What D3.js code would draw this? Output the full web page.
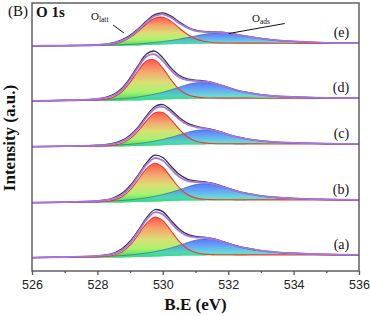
<!DOCTYPE html>
<html>
<head>
<meta charset="utf-8">
<script src="https://cdn.jsdelivr.net/npm/d3@7"></script>
<style>
  html, body { margin: 0; padding: 0; background: #fff; }
  svg { display: block; }
  .serif { font-family: "Liberation Serif", "DejaVu Serif", serif; }
  .sans { font-family: "Liberation Sans", "DejaVu Sans", sans-serif; }
</style>
</head>
<body>
<div id="chart"></div>
<script>
// binding energy grid (eV)
const energy = [526, 527, 527.5, 528, 528.25, 528.5, 528.75, 529, 529.25, 529.5, 529.75, 530, 530.25,
  530.5, 530.75, 531, 531.25, 531.5, 531.75, 532, 532.25, 532.5, 533, 533.5, 534, 535, 536];

// shirley-like background, shared by all spectra
const background = [0, 0, 0, 0.05, 0.1, 0.15, 0.25, 0.4, 0.6, 0.9, 1.2, 1.5, 1.75, 1.95, 2.1, 2.2, 2.3,
  2.4, 2.45, 2.5, 2.5, 2.55, 2.6, 2.6, 2.6, 2.6, 2.6];

const sampleLabels = ['(a)', '(b)', '(c)', '(d)', '(e)'];
const stackOffsets = [13.3, 68.3, 124.3, 170, 225];

// O_latt component
const lattA = [0, 0.3, 0.4, 0.7, 1.1, 2.3, 5.5, 12.1, 22.4, 33.5, 39.3, 35.6, 25.2, 14.3, 6.8, 2.9, 1.3, 0.7, 0.5, 0.4, 0.35, 0.3, 0.25, 0.2, 0.15, 0, 0];
const lattB = [0, 0.2, 0.35, 0.65, 1.1, 2.4, 5.7, 12.4, 22.6, 33.2, 38.2, 33.9, 23.5, 13.1, 6.1, 2.6, 1.2, 0.65, 0.5, 0.4, 0.35, 0.3, 0.25, 0.2, 0.15, 0, 0];
const lattC = [0, 0.2, 0.3, 0.5, 0.7, 1.4, 3.3, 7.7, 15.3, 25.0, 32.4, 32.6, 25.4, 15.7, 7.9, 3.5, 1.5, 0.74, 0.5, 0.4, 0.35, 0.3, 0.2, 0.15, 0.1, 0, 0];
const lattD = [0, 0.3, 0.45, 0.85, 1.7, 3.9, 9.0, 18.2, 29.9, 39.2, 39.8, 31.3, 19.6, 9.9, 4.3, 1.9, 0.9, 0.6, 0.45, 0.4, 0.35, 0.3, 0.2, 0.15, 0.1, 0, 0];
const lattE = [0, 0.2, 0.3, 0.55, 0.95, 1.9, 4.1, 8.0, 14.1, 21.1, 26.5, 27.2, 22.9, 16.0, 9.7, 5.05, 2.4, 1.15, 0.63, 0.45, 0.35, 0.3, 0.25, 0.2, 0.15, 0, 0];

// O_ads component
const adsA = [0.15, 0.4, 0.6, 1.0, 1.2, 1.5, 1.9, 2.35, 3.0, 3.75, 4.85, 6.2, 8.0, 10.3, 13.0, 15.3, 16.35, 15.8, 13.9, 11.3, 8.85, 6.9, 4.1, 2.6, 1.7, 0.7, 0.3];
const adsB = [0.15, 0.4, 0.65, 1.0, 1.25, 1.6, 2.0, 2.5, 3.2, 4.0, 5.2, 6.7, 8.6, 11.0, 13.7, 15.9, 16.8, 16.0, 14.0, 11.3, 8.7, 6.7, 3.9, 2.4, 1.6, 0.65, 0.3];
const adsC = [0.1, 0.35, 0.5, 0.85, 1.0, 1.3, 1.65, 2.05, 2.6, 3.3, 4.4, 5.8, 7.6, 9.8, 12.2, 14.0, 14.6, 13.8, 11.9, 9.2, 7.0, 5.3, 3.0, 1.8, 1.15, 0.45, 0.2];
const adsD = [0.15, 0.45, 0.7, 1.1, 1.35, 1.7, 2.15, 2.7, 3.45, 4.4, 5.7, 7.3, 9.4, 11.9, 14.4, 16.0, 16.4, 15.3, 13.0, 10.4, 7.9, 6.0, 3.4, 2.0, 1.3, 0.5, 0.2];
const adsE = [0.1, 0.25, 0.35, 0.55, 0.65, 0.8, 1.0, 1.2, 1.5, 1.85, 2.3, 2.95, 3.8, 4.9, 6.3, 7.9, 9.4, 10.3, 10.4, 9.8, 8.6, 7.2, 4.6, 2.9, 1.8, 0.6, 0.25];

// measured spectra
const rawA = [0.15, 0.7, 1.0, 1.85, 2.7, 4.65, 8.95, 16.45, 27.4, 39.75, 47.95, 46.1, 37.35, 28.75, 23.5, 21.3, 20.55, 19.3, 17.15, 14.5, 12.0, 9.95, 7.05, 5.4, 4.45, 3.3, 2.9];
const rawB = [0.15, 0.6, 1.0, 1.8, 2.75, 4.95, 9.35, 17.0, 27.9, 39.9, 47.5, 45.2, 36.45, 28.35, 23.6, 21.7, 21.0, 19.55, 17.35, 14.5, 11.85, 9.75, 6.85, 5.2, 4.35, 3.25, 2.9];
const rawC = [0.1, 0.55, 0.8, 1.5, 2.0, 3.45, 6.3, 11.55, 19.8, 30.7, 40.0, 42.1, 36.75, 29.25, 23.6, 20.5, 18.9, 17.34, 15.15, 12.4, 10.05, 8.35, 5.9, 4.55, 3.85, 3.05, 2.8];
const rawD = [0.15, 0.75, 1.15, 2.1, 3.55, 6.65, 12.9, 23.1, 35.55, 46.9, 49.9, 43.1, 33.15, 25.75, 22.2, 20.9, 20.1, 18.7, 16.2, 13.6, 10.95, 9.05, 6.3, 4.75, 4.0, 3.1, 2.8];
const rawE = [0.1, 0.45, 0.65, 1.25, 1.9, 3.35, 6.25, 10.7, 17.2, 24.95, 31.3, 33.15, 29.85, 24.05, 19.0, 15.75, 14.5, 14.15, 13.78, 12.95, 11.65, 10.15, 7.55, 5.7, 4.55, 3.2, 2.85];

const majorTicks = [526, 528, 530, 532, 534, 536];
const minorTicks = [527, 529, 531, 533, 535];

const lattSeries = [lattA, lattB, lattC, lattD, lattE];
const adsSeries = [adsA, adsB, adsC, adsD, adsE];
const rawSeries = [rawA, rawB, rawC, rawD, rawE];

const width = 370, height = 316;
const x = d3.scaleLinear().domain([526, 536]).range([32, 359]);
const y = d3.scaleLinear().domain([0, 268]).range([271, 3]);

const svg = d3.select('#chart').append('svg')
  .attr('width', width)
  .attr('height', height);

const defs = svg.append('defs');

defs.append('clipPath').attr('id', 'plotClip')
  .append('rect')
  .attr('x', x(526)).attr('y', y(268))
  .attr('width', x(536) - x(526)).attr('height', y(0) - y(268));

function gradient(id, stops) {
  const g = defs.append('linearGradient').attr('id', id)
    .attr('x1', 0).attr('y1', 0).attr('x2', 0).attr('y2', 1);
  stops.forEach(s => g.append('stop').attr('offset', s[0]).attr('stop-color', s[1]));
}
gradient('lattFill', [[0, '#ff4b3e'], [0.3, '#f4a062'], [0.55, '#d6dc68'], [0.78, '#a2f262'], [1, '#34d257']]);
gradient('adsFill', [[0, '#2f55ff'], [0.4, '#3f95f0'], [0.72, '#3fd2d0'], [1, '#2fe070']]);

const curve = d3.curveCatmullRom.alpha(0.5);

const plot = svg.append('g').attr('clip-path', 'url(#plotClip)');

sampleLabels.forEach((label, i) => {
  const off = stackOffsets[i];
  const latt = lattSeries[i], ads = adsSeries[i], raw = rawSeries[i];
  const rows = energy.map((e, k) => ({
    e: e,
    bg: off + background[k],
    latt: off + background[k] + latt[k],
    ads: off + background[k] + ads[k],
    fit: off + background[k] + latt[k] + ads[k],
    raw: off + raw[k]
  }));

  const g = plot.append('g').attr('class', 'spectrum');

  const area = key => d3.area().curve(curve)
    .x(d => x(d.e)).y0(d => y(d.bg)).y1(d => y(d[key]));
  const line = key => d3.line().curve(curve)
    .x(d => x(d.e)).y(d => y(d[key]));

  g.append('path').datum(rows)
    .attr('d', area('latt'))
    .attr('fill', 'url(#lattFill)')
    .attr('fill-opacity', 0.92);

  g.append('path').datum(rows)
    .attr('d', area('ads'))
    .attr('fill', 'url(#adsFill)')
    .attr('fill-opacity', 0.8);

  g.append('path').datum(rows)
    .attr('d', line('ads'))
    .attr('fill', 'none')
    .attr('stroke', '#3b6680')
    .attr('stroke-opacity', 0.8)
    .attr('stroke-width', 0.8);

  g.append('path').datum(rows)
    .attr('d', line('latt'))
    .attr('fill', 'none')
    .attr('stroke', '#f03a2c')
    .attr('stroke-width', 1.1);

  g.append('path').datum(rows)
    .attr('d', line('raw'))
    .attr('fill', 'none')
    .attr('stroke', '#333')
    .attr('stroke-width', 1.3);

  g.append('path').datum(rows)
    .attr('d', line('fit'))
    .attr('fill', 'none')
    .attr('stroke', '#a574e6')
    .attr('stroke-width', 1.8);

  svg.append('text')
    .attr('class', 'serif')
    .attr('x', x(535.7))
    .attr('y', y(off + 9))
    .attr('text-anchor', 'end')
    .attr('font-size', 14)
    .attr('fill', '#111')
    .text(label);
});

// frame
svg.append('rect')
  .attr('x', x(526)).attr('y', y(268))
  .attr('width', x(536) - x(526)).attr('height', y(0) - y(268))
  .attr('fill', 'none')
  .attr('stroke', '#555')
  .attr('stroke-width', 1.4);

// x axis
const xAxis = d3.axisBottom(x).tickValues(majorTicks).tickSize(4).tickPadding(5.5)
  .tickFormat(d3.format('d'));
svg.append('g')
  .attr('class', 'x axis')
  .attr('transform', 'translate(0,' + y(0) + ')')
  .call(xAxis)
  .call(g => g.select('.domain').remove())
  .call(g => g.selectAll('line').attr('stroke', '#555').attr('stroke-width', 1.3))
  .call(g => g.selectAll('text')
    .attr('class', 'sans')
    .attr('font-family', null)
    .attr('font-size', 12.5)
    .attr('fill', '#222'));
svg.selectAll('.x.axis').attr('font-family', null);

svg.append('g')
  .attr('class', 'x minor')
  .attr('transform', 'translate(0,' + y(0) + ')')
  .call(d3.axisBottom(x).tickValues(minorTicks).tickSize(2).tickFormat(''))
  .call(g => g.select('.domain').remove())
  .call(g => g.selectAll('line').attr('stroke', '#555').attr('stroke-width', 1.3));

// axis titles
svg.append('text')
  .attr('class', 'serif')
  .attr('x', (x(526) + x(536)) / 2)
  .attr('y', 310)
  .attr('text-anchor', 'middle')
  .attr('font-weight', 'bold')
  .attr('font-size', 17)
  .attr('fill', '#111')
  .text('B.E (eV)');

svg.append('text')
  .attr('class', 'serif')
  .attr('transform', 'translate(15,138) rotate(-90)')
  .attr('text-anchor', 'middle')
  .attr('font-weight', 'bold')
  .attr('font-size', 17)
  .attr('fill', '#111')
  .text('Intensity (a.u.)');

// panel tags
svg.append('text')
  .attr('class', 'serif')
  .attr('x', 8).attr('y', 16)
  .attr('font-size', 15)
  .attr('fill', '#111')
  .text('(B)');

svg.append('text')
  .attr('class', 'serif')
  .attr('x', 36).attr('y', 17)
  .attr('font-weight', 'bold')
  .attr('font-size', 15)
  .attr('fill', '#111')
  .text('O 1s');

// component annotations
function annotate(tx, ty, sub, from, to) {
  const t = svg.append('text')
    .attr('class', 'serif')
    .attr('x', tx).attr('y', ty)
    .attr('font-size', 11)
    .attr('fill', '#111');
  t.append('tspan').text('O');
  t.append('tspan').attr('font-size', 7.5).attr('dy', 2.5).text(sub);
  svg.append('line')
    .attr('x1', x(from[0])).attr('y1', y(from[1]))
    .attr('x2', x(to[0])).attr('y2', y(to[1]))
    .attr('stroke', '#111')
    .attr('stroke-width', 1);
}
annotate(91, 19.5, 'latt', [528.48, 246], [528.81, 238]);
annotate(252, 21.5, 'ads', [533.73, 247.5], [532.02, 237.5]);
</script>
</body>
</html>
